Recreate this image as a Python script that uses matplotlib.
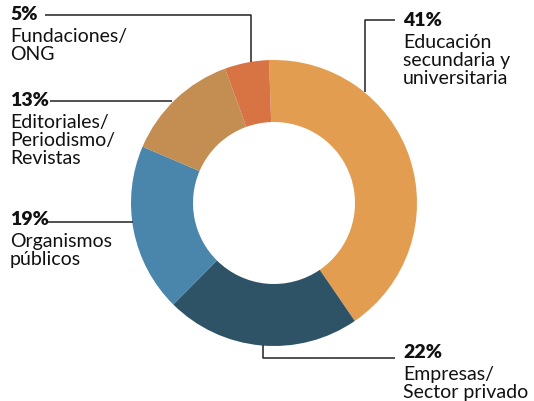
import matplotlib
matplotlib.use("Agg")
import matplotlib.pyplot as plt

labels = ["Educación\nsecundaria y\nuniversitaria", "Empresas/\nSector privado",
          "Organismos\npúblicos", "Editoriales/\nPeriodismo/\nRevistas", "Fundaciones/\nONG"]
values = [41, 22, 19, 13, 5]
colors = ["#E39D50", "#2E5266", "#4A86AB", "#C48E52", "#D87444"]

H = 401
fig = plt.figure(figsize=(5.34, 4.01), dpi=100)
ax = fig.add_axes([0, 0, 1, 1])
ax.set_xlim(0, 534)
ax.set_ylim(0, H)
ax.set_aspect("equal")
ax.axis("off")

ax.pie(values, colors=colors, startangle=92, counterclock=False,
       center=(274, H - 203), radius=143,
       wedgeprops=dict(width=62, linewidth=0))
ax.set_xlim(0, 534)
ax.set_ylim(0, H)

fam = "Lato"
# text anchors (x, top of percentage) in pixels
pos = [(403, 12), (403, 344), (10, 211), (10, 92), (10, 6)]
for (x, y), v, lab in zip(pos, values, labels):
    ax.text(x, H - y, f"{v}%", fontsize=14, fontweight="heavy", family=fam,
            va="top", ha="left", color="#111111")
    ax.text(x, H - y - 22, lab, fontsize=14, family=fam, va="top", ha="left",
            color="#111111", linespacing=1.08)

lk = dict(color="#222222", lw=1.1, solid_capstyle="butt")
def line(xs, ys):
    ax.plot(xs, [H - y for y in ys], **lk)

line([45, 251, 251], [15, 15, 62])          # 5%
line([395, 365, 365], [20, 20, 92])         # 41%
line([50, 172], [101, 101])                 # 13%
line([48, 133], [222, 222])                 # 19%
line([263, 263, 395], [345, 358, 358])      # 22%

fig.savefig("out.png", dpi=100)
